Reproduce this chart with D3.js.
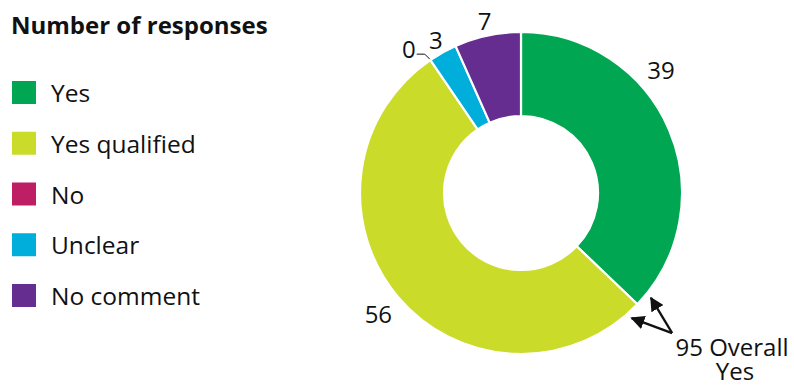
<!DOCTYPE html>
<html>
<head>
<meta charset="utf-8">
<script src="https://cdn.jsdelivr.net/npm/d3@7"></script>
<style>
  html, body { margin: 0; padding: 0; background: #fff; }
  svg { display: block; font-family: "Open Sans", sans-serif; }
</style>
</head>
<body>
<svg id="chart" width="794" height="387"></svg>
<script>
// Survey responses, in clockwise order from 12 o'clock
const categories = ["Yes", "Yes qualified", "No", "Unclear", "No comment"];
const responses = [39, 56, 0, 3, 7];
const colors = ["#00a651", "#cbdb2a", "#be1e63", "#00aedb", "#662d91"];
const legendTitle = "Number of responses";
const overallLabel = ["Overall", "Yes"];

const svg = d3.select("#chart");
const cx = 521, cy = 193;
const outerR = 161, innerR = 77;

const data = categories.map((c, i) => ({ category: c, value: responses[i], color: colors[i] }));

const pie = d3.pie().value(d => d.value).sort(null);
const arcs = pie(data);
const arc = d3.arc().innerRadius(innerR).outerRadius(outerR);

const g = svg.append("g").attr("transform", `translate(${cx},${cy})`);

g.selectAll("path.slice")
  .data(arcs.filter(a => a.value > 0))
  .join("path")
  .attr("class", "slice")
  .attr("d", arc)
  .attr("fill", d => d.data.color)
  .attr("stroke", "#fff")
  .attr("stroke-width", 2.2)
  .attr("stroke-linejoin", "round");

// polar helper: angle in radians clockwise from top
const polar = (a, r) => [r * Math.sin(a), -r * Math.cos(a)];
const deg = Math.PI / 180;

// value labels
const labelFont = 24;
const angleNudge = { "Yes": -18 * deg };
const labelRadius = { "Yes": 186, "Yes qualified": 187 };
arcs.forEach(a => {
  const name = a.data.category;
  if (a.value === 0) {
    // zero-width slice: label sits beside a small hooked leader
    const [x0, y0] = polar(a.startAngle, outerR + 1);
    const hook = [[x0, y0], [x0 - 5, y0 - 5], [x0 - 13, y0 - 5]];
    g.append("path")
      .attr("d", d3.line()(hook))
      .attr("fill", "none")
      .attr("stroke", "#111")
      .attr("stroke-width", 1);
    g.append("text")
      .attr("x", x0 - 14)
      .attr("y", y0 - 1)
      .attr("text-anchor", "end")
      .attr("font-size", labelFont)
      .attr("fill", "#111")
      .text(a.value);
    return;
  }
  const mid = (a.startAngle + a.endAngle) / 2 + (angleNudge[name] || 0);
  const [x, y] = polar(mid, labelRadius[name] || 175);
  g.append("text")
    .attr("x", x)
    .attr("y", y)
    .attr("dy", "0.36em")
    .attr("text-anchor", "middle")
    .attr("font-size", labelFont)
    .attr("fill", "#111")
    .text(a.value);
});

// callout: combined "Yes" total with two arrows to the shared boundary
const overallYes = responses[0] + responses[1];
const boundary = arcs[0].endAngle;
svg.append("defs").append("marker")
  .attr("id", "arrowhead")
  .attr("viewBox", "0 0 10 10")
  .attr("refX", 9).attr("refY", 5)
  .attr("markerWidth", 14).attr("markerHeight", 14)
  .attr("markerUnits", "userSpaceOnUse")
  .attr("orient", "auto")
  .append("path")
  .attr("d", "M0,0 L10,5 L0,10 Z")
  .attr("fill", "#111");

const tail = polar(boundary - 0.9 * deg, 206);
[-4.8 * deg, 4.8 * deg].forEach(off => {
  const tip = polar(boundary + off, 167);
  g.append("line")
    .attr("x1", tail[0]).attr("y1", tail[1])
    .attr("x2", tip[0]).attr("y2", tip[1])
    .attr("stroke", "#111")
    .attr("stroke-width", 2.4)
    .attr("marker-end", "url(#arrowhead)");
});

svg.append("text")
  .attr("x", 732).attr("y", 356)
  .attr("font-size", labelFont)
  .attr("fill", "#111")
  .attr("text-anchor", "middle")
  .text(`${overallYes} ${overallLabel[0]}`);
svg.append("text")
  .attr("x", 735).attr("y", 380)
  .attr("font-size", labelFont)
  .attr("fill", "#111")
  .attr("text-anchor", "middle")
  .text(overallLabel[1]);

// legend
const legend = svg.append("g");
legend.append("text")
  .attr("x", 11)
  .attr("y", 34)
  .attr("font-size", 24)
  .attr("font-weight", 700)
  .attr("fill", "#111")
  .text(legendTitle);

const rowY = d3.scalePoint().domain(categories).range([81, 284]);
const rows = legend.selectAll("g.row")
  .data(data)
  .join("g")
  .attr("class", "row")
  .attr("transform", d => `translate(12,${rowY(d.category)})`);
rows.append("rect")
  .attr("width", 24).attr("height", 23)
  .attr("fill", d => d.color);
rows.append("text")
  .attr("x", 39)
  .attr("y", 21)
  .attr("font-size", 24.5)
  .attr("fill", "#111")
  .text(d => d.category);
</script>
</body>
</html>
